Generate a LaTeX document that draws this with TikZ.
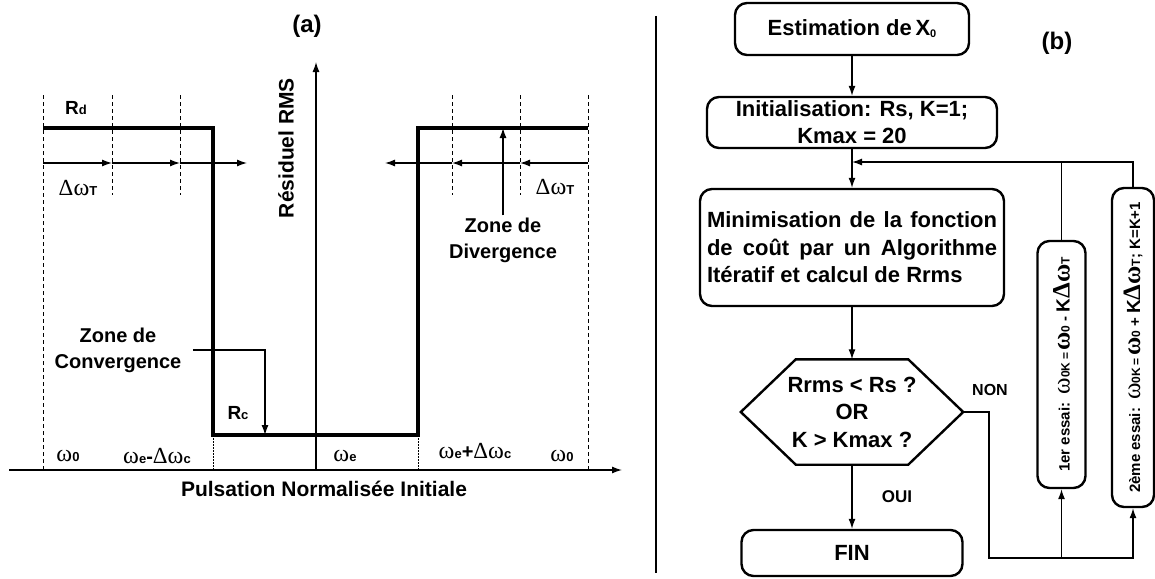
\documentclass[tikz,border=0pt]{standalone}
\usepackage{fontspec}
\setmainfont{Liberation Sans}
\newfontfamily\symb{Liberation Serif}
\usetikzlibrary{arrows.meta}
\usetikzlibrary{calc,positioning}

\newcommand{\fs}[2]{\fontsize{#1}{#2}\selectfont}
\newcommand{\om}{{\symb\mdseries\fontsize{24}{24}\selectfont ω}}
\newcommand{\Dl}{{\symb\mdseries\fontsize{23}{23}\selectfont Δ}}
\newcommand{\ind}[2][13]{{\fontsize{#1}{#1}\selectfont #2}}
\newcommand{\grand}[1]{{\symb\fontsize{25}{25}\selectfont #1}}

\begin{document}
\begin{tikzpicture}[x=1pt,y=-1pt,font=\bfseries,
    fleche/.style={-{Latex[length=10pt,width=7pt]},line width=1.3pt},
    trait/.style={line width=1.3pt},
    tirets/.style={line width=1pt,dash pattern=on 4pt off 3pt},
    pointille/.style={line width=0.8pt,dash pattern=on 1.5pt off 1.5pt},
    palier/.style={line width=3.4pt},
    etiq/.style={font=\fs{20}{26}\bfseries},
    boite/.style={draw,line width=2.4pt,rounded corners=12pt,align=center,inner sep=3pt,font=\fs{22}{27}\bfseries}]

    \useasboundingbox (0,0) rectangle (1155,578);

		% (a)
		\coordinate (O) at (316,470);
		\coordinate (yh) at (316,62);
		\coordinate (xg) at (9,470);
		\coordinate (xd) at (622,470);
		\draw [fleche] (O) -- (yh); %axe
		\draw [fleche] (xg) -- (xd); %axe

		\coordinate (p1) at (43,128);
		\coordinate (p2) at (213,128);
		\coordinate (p3) at (213,435);
		\coordinate (p4) at (418,435);
		\coordinate (p5) at (418,128);
		\coordinate (p6) at (588,128);
		\draw [palier] (p1) -- (p2) -- (p3) -- (p4) -- (p5) -- (p6);

		\foreach \x in {112,180,452,520} \draw [tirets] (\x,95) -- (\x,195);
		\foreach \x in {43,588} \draw [tirets] (\x,95) -- (\x,470);
		\foreach \x in {213,418} \draw [pointille] (\x,435) -- (\x,470);
		\foreach \a/\b in {43/112,112/180,180/247,588/520,520/452,452/385}
		  \draw [fleche] (\a,163) -- (\b,163); %pas

		\node [font=\fs{24}{28}\bfseries] (ta) at (307,26) {(a)};
		\node [rotate=90,font=\fs{21}{25}\bfseries] (yl) at (286,148) {Résiduel RMS};
		\node [font=\fs{21}{25}\bfseries] (xl) at (324,489) {Pulsation Normalisée Initiale};
		\node [font=\fs{19}{20}\bfseries] (Rd) at (76,108) {R\ind{d}};
		\node [font=\fs{19}{20}\bfseries] (Rc) at (238,413) {R\ind{c}};
		\node [etiq] (dT1) at (78,188) {\Dl\om\ind{T}};
		\node [etiq] (dT2) at (555,187) {\Dl\om\ind{T}};
		\node [etiq] (w1) at (68,456) {\om\ind{0}};
		\node [etiq] (w2) at (157,456) {\om\ind{e}-\Dl\om\ind{c}};
		\node [etiq] (w3) at (345,456) {\om\ind{e}};
		\node [etiq] (w4) at (475,451) {\om\ind{e}+\Dl\om\ind{c}};
		\node [etiq] (w5) at (562,456) {\om\ind{0}};

		\node [etiq,align=center,inner sep=2pt] (zdiv) at (503,240) {Zone de\\Divergence};
		\draw [fleche] (zdiv.north) -- (p5 -| zdiv.north); %divergence
		\node [etiq,align=center] (zconv) at (118,350) {Zone de\\Convergence};
		\coordinate (c1) at (265,435);
		\draw [fleche] ([xshift=8pt]zconv.east) -| (c1); %convergence

		\coordinate (s1) at (656,16);
		\coordinate (s2) at (656,573);
		\draw [trait] (s1) -- (s2);

		% (b)
		\node [boite,minimum width=234pt,minimum height=52pt] (est) at (852,29) {Estimation de\,X\ind[11]{\raisebox{-2pt}{0}}};
		\node [font=\fs{24}{28}\bfseries] (tb) at (1057,43) {(b)};
		\node [boite,minimum width=290pt,minimum height=51pt] (init) at (852,122.5) {Initialisation: Rs, K=1;\\Kmax = 20};
		\node [boite,minimum width=304pt,minimum height=117pt,align=left,font=\fs{22}{27.5}\bfseries] (mini) at (852,247.5)
		  {\makebox[290pt][s]{Minimisation de la fonction}\\\makebox[290pt][s]{de coût par un Algorithme}\\Itératif et calcul de Rrms};
		\node [minimum width=222pt,minimum height=105pt,align=center,font=\fs{22}{27.5}\bfseries] (test) at (852,412) {Rrms < Rs ?\\OR\\K > Kmax ?};
		\draw [line width=2.4pt] (test.west) -- ($(test.north west)+(55,0)$) -- ($(test.north east)+(-55,0)$)
		  -- (test.east) -- ($(test.south east)+(-55,0)$) -- ($(test.south west)+(55,0)$) -- cycle; %test
		\node [boite,minimum width=221pt,minimum height=46pt] (fin) at (852,553) {FIN};
		\node [boite,rotate=90,minimum width=247pt,minimum height=48pt,inner sep=1pt,font=\fs{15}{16}\bfseries] (ess1) at (1061.5,364.5)
		  {1er essai:\ \ \grand{\mdseries ω}\ind[12]{0K}\,\ind[12]{=}\,\grand{ω}\ind[12]{0} - {\fs{19}{19}K}\grand{Δω}\ind[12]{T}};
		\node [boite,rotate=90,minimum width=319pt,minimum height=42pt,inner sep=1pt,font=\fs{15}{16}\bfseries] (ess2) at (1133,347.5)
		  {2ème essai:\ \ \grand{\mdseries ω}\ind[12]{0K}\,\ind[12]{=}\,\grand{ω}\ind[12]{0} + {\fs{19}{19}K}\grand{Δω}\ind[12]{T}; K=K+1};

		\coordinate (retour) at (852,162);
		\coordinate (coude) at (989,558);
		\draw [fleche] (est.south) -- (init.north);
		\draw [fleche] (init.south) -- (mini.north);
		\draw [fleche] (mini.south) -- (test.north);
		\draw [fleche] (test.south) -- (fin.north);
		\draw [fleche] (test.east) -| (coude) -| (ess2.west); %non
		\draw [fleche] (ess1.west |- coude) -- (ess1.west);
		\draw [trait] (ess1.east) -- (ess1.east |- retour);
		\draw [fleche] (ess2.east) |- (retour); %boucle
		\node [font=\fs{16}{18}\bfseries] (non) at (990,390) {NON};
		\node [font=\fs{17}{19}\bfseries] (oui) at (897,497) {OUI};
\end{tikzpicture}
\end{document}
